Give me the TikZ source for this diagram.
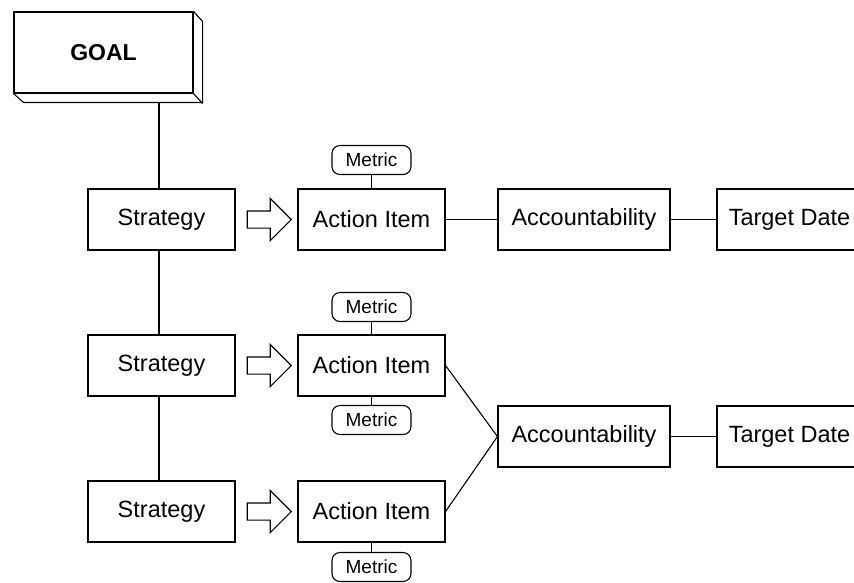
\documentclass[tikz,border=0pt]{standalone}
\usepackage{fontspec}
\setmainfont{Liberation Sans}
\usetikzlibrary{shapes.arrows}

\begin{document}
\begin{tikzpicture}[x=1pt,y=-1pt,line width=1.1pt,
                    box/.style={rectangle,draw,minimum width=147pt,minimum height=61pt,
                                inner sep=0pt,font=\fontsize{23.5}{28}\selectfont},
                    metric/.style={rectangle,draw,rounded corners=8pt,minimum width=79pt,
                                   minimum height=29pt,inner sep=0pt,font=\fontsize{19}{22}\selectfont},
                    push/.style={single arrow,draw,minimum height=44pt,minimum width=41pt,
                                 inner sep=8pt,single arrow head extend=12.5pt}]
  \useasboundingbox (0,0) rectangle (854,582);

  % goal block with its depth
  \node[draw,minimum width=179pt,minimum height=81pt,inner sep=0pt,
        font=\bfseries\fontsize{23}{28}\selectfont] (goal) at (103.5,52.5) {GOAL};
  \draw (goal.north east) -- ++(9,10) -- ++(0,81) -- ++(-179,0) -- (goal.south west);
  \draw (goal.south east) -- ++(9,10);
  \coordinate (spine) at (159,103);

  \node[box] (s1) at (161.5,219.5) {Strategy};
  \node[box] (s2) at (161.5,365.5) {Strategy};
  \node[box] (s3) at (161.5,511.5) {Strategy};

  \node[push] (p1) at (265,219.5) {};
  \node[push] (p2) at (265,365.5) {};
  \node[push] (p3) at (265,511.5) {};

  \node[box] (act1) at (371.5,219.5) {Action Item};
  \node[box] (act2) at (371.5,365.5) {Action Item};
  \node[box] (act3) at (371.5,511.5) {Action Item};

  \node[metric] (m1) at (371.5,160) {Metric};
  \node[metric] (m2) at (371.5,307) {Metric};
  \node[metric] (m3) at (371.5,420) {Metric};
  \node[metric] (m4) at (371.5,567) {Metric};

  \node[box,minimum width=172pt] (acc1) at (584,219.5) {Accountability};
  \node[box,minimum width=172pt] (acc2) at (584,436.5) {Accountability};

  \node[box,minimum width=145pt] (tgt1) at (789.5,219.5) {Target Date};
  \node[box,minimum width=145pt] (tgt2) at (789.5,436.5) {Target Date};

  \draw (spine) -- (spine |- s1.north)
        (spine |- s1.south) -- (spine |- s2.north)
        (spine |- s2.south) -- (spine |- s3.north);

\path
    (m1) edge (act1)
    (m2) edge (act2)
    (act2) edge (m3)
    (act3) edge (m4)
    (act1) edge (acc1)
    (acc1) edge (tgt1)
    (act2.east) edge (acc2.west)
    (act3.east) edge (acc2.west)
    (acc2) edge (tgt2)
;
\end{tikzpicture}
\end{document}
